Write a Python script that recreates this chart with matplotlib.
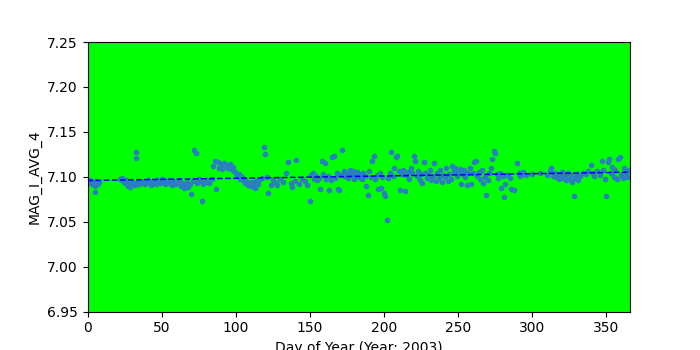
import numpy as np
import matplotlib
matplotlib.use("Agg")
import matplotlib.pyplot as plt

days = [1, 2, 3, 4, 5, 5, 6, 7, 8,
        22, 23, 24, 25, 26, 27, 28, 29, 30, 31, 32, 33, 33, 34, 35, 36, 37, 38, 39, 40,
        41, 42, 43, 44, 45, 46, 47, 48, 49, 50, 51, 52, 53, 54, 55, 56, 57, 58, 59, 60,
        61, 62, 63, 64, 65, 66, 67, 68, 69, 70, 71, 72, 73, 74, 75, 76, 77, 78, 79, 80, 82, 84,
        85, 86, 87, 88, 89, 90, 91, 92, 93, 94, 95, 96, 97, 98, 99, 100, 101, 102, 103, 104,
        105, 106, 107, 108, 109, 110, 111, 112, 113, 114, 115, 116,
        118, 119, 120, 121, 122, 124, 125, 127, 128, 130, 132, 134, 135, 137, 138, 140, 141,
        143, 145, 147, 148, 150, 151, 152,
        153, 154, 155, 156, 157, 158, 159, 160, 161, 162, 163, 164, 165, 166, 167, 168, 169, 170,
        171, 172, 173, 174, 175, 176, 177, 178, 179, 180, 181, 182, 183, 184, 185, 186, 187, 188,
        189, 190, 191, 192, 193, 194, 195, 196, 197, 198, 199, 200, 201, 202, 203, 204, 205, 206,
        207, 208, 209, 210, 211, 212, 213, 214, 215, 216, 217, 218, 219, 220, 221, 222, 223, 224,
        225, 226, 227, 228, 229, 230, 231, 232, 233, 234, 235, 236, 237, 238, 239, 240, 241, 242,
        243, 244, 245, 246, 247, 248, 249, 250, 251, 252, 253, 254, 255, 256, 257, 258, 259, 260,
        261, 262, 263, 264, 265, 266, 267, 268, 269, 270, 271, 272, 273, 274, 275, 276, 277, 278,
        279, 280, 281, 282, 283, 285, 286, 288, 290, 291, 292, 293, 294, 296, 300, 305, 310, 312,
        313, 314, 315, 316, 317, 318, 319, 320, 321, 322, 323, 324, 325, 326, 327, 328, 329, 330,
        331, 332, 334, 336, 338, 340, 341, 342, 344, 346, 347, 348, 349, 350, 351, 352, 353, 354,
        355, 356, 357, 358, 359, 360, 361, 362, 363, 364, 365]

mag = [7.093, 7.096, 7.092, 7.094, 7.083, 7.090, 7.095, 7.092, 7.094,
       7.097, 7.099, 7.095, 7.093, 7.096, 7.090, 7.092, 7.089, 7.094, 7.093, 7.091, 7.128, 7.121,
       7.095, 7.092, 7.094, 7.093, 7.095, 7.092, 7.094,
       7.096, 7.093, 7.091, 7.095, 7.094, 7.092, 7.096, 7.095, 7.093, 7.097, 7.094, 7.092, 7.095,
       7.093, 7.096, 7.094, 7.091, 7.095, 7.093, 7.092,
       7.094, 7.096, 7.090, 7.093, 7.087, 7.091, 7.094, 7.089, 7.092, 7.081, 7.095, 7.130, 7.126,
       7.093, 7.097, 7.095, 7.073, 7.092, 7.094, 7.096, 7.093, 7.098,
       7.112, 7.118, 7.086, 7.116, 7.110, 7.114, 7.109, 7.115, 7.112, 7.113, 7.110, 7.114, 7.109,
       7.111, 7.106, 7.104, 7.101, 7.103, 7.098, 7.100,
       7.096, 7.093, 7.095, 7.091, 7.093, 7.090, 7.094, 7.092, 7.088, 7.095, 7.092, 7.096,
       7.099, 7.133, 7.125, 7.100, 7.082, 7.091, 7.096, 7.093, 7.091, 7.097, 7.094, 7.104, 7.116,
       7.093, 7.089, 7.095, 7.119, 7.092, 7.098, 7.095, 7.091, 7.073, 7.102, 7.104,
       7.097, 7.101, 7.096, 7.099, 7.086, 7.118, 7.103, 7.115, 7.098, 7.101, 7.085, 7.096, 7.122,
       7.123, 7.099, 7.104, 7.086, 7.085,
       7.102, 7.130, 7.106, 7.101, 7.104, 7.099, 7.108, 7.103, 7.106, 7.097, 7.102, 7.105, 7.100,
       7.103, 7.098, 7.104, 7.101, 7.090,
       7.080, 7.106, 7.100, 7.117, 7.123, 7.098, 7.102, 7.086, 7.104, 7.087, 7.100, 7.082, 7.079,
       7.052, 7.099, 7.104, 7.128, 7.101,
       7.110, 7.122, 7.123, 7.106, 7.085, 7.103, 7.108, 7.084, 7.102, 7.105, 7.098, 7.110, 7.104,
       7.123, 7.118, 7.101, 7.106, 7.096,
       7.103, 7.093, 7.116, 7.104, 7.099, 7.102, 7.107, 7.096, 7.101, 7.115, 7.095, 7.104, 7.099,
       7.107, 7.094, 7.102, 7.100, 7.110,
       7.095, 7.103, 7.098, 7.112, 7.106, 7.110, 7.101, 7.104, 7.109, 7.092, 7.103, 7.107, 7.100,
       7.091, 7.104, 7.110, 7.092, 7.104,
       7.116, 7.118, 7.101, 7.105, 7.098, 7.108, 7.093, 7.100, 7.080, 7.096, 7.104, 7.110, 7.120,
       7.129, 7.126, 7.103, 7.099, 7.104,
       7.088, 7.101, 7.077, 7.092, 7.102, 7.099, 7.086, 7.085, 7.115, 7.104, 7.101, 7.103, 7.105,
       7.102, 7.103, 7.104, 7.102, 7.106,
       7.110, 7.101, 7.104, 7.100, 7.103, 7.098, 7.102, 7.105, 7.099, 7.101, 7.096, 7.104, 7.098,
       7.102, 7.094, 7.079, 7.099, 7.103,
       7.096, 7.101, 7.104, 7.103, 7.106, 7.113, 7.104, 7.101, 7.106, 7.102, 7.118, 7.108, 7.098,
       7.079, 7.116, 7.120, 7.104, 7.111,
       7.100, 7.107, 7.098, 7.120, 7.122, 7.102, 7.099, 7.110, 7.104, 7.100, 7.107]

x_ticks = [0, 50, 100, 150, 200, 250, 300, 350]
y_ticks = [6.95, 7.00, 7.05, 7.10, 7.15, 7.20, 7.25]

d = np.array(days, dtype=float)
m = np.array(mag)
coef = np.polyfit(d, m, 1)
xf = np.array([0.0, 366.0])

fig = plt.figure(figsize=(7, 3.5), dpi=100)
ax = fig.add_subplot(111)
ax.set_facecolor('#00ff00')
ax.plot(d, m, 'o', color='#2a7fc0', markersize=3.0, zorder=2)
ax.plot(xf, np.polyval(coef, xf), '--', color='#0000ee', linewidth=1.1, zorder=3)
ax.set_xlim(0, 366)
ax.set_ylim(6.95, 7.25)
ax.set_xticks(x_ticks)
ax.set_yticks(y_ticks)
ax.set_yticklabels([f"{v:.2f}" for v in y_ticks])
ax.set_xlabel('Day of Year (Year: 2003)')
ax.set_ylabel('MAG_I_AVG_4')
fig.savefig('out.png', dpi=100)
